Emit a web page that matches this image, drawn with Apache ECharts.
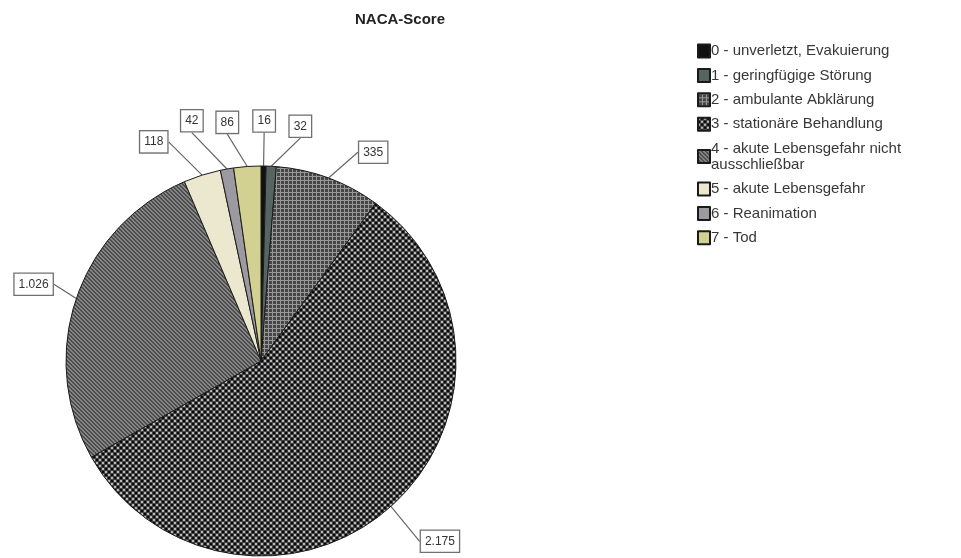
<!DOCTYPE html>
<html>
<head>
<meta charset="utf-8">
<script src="https://cdn.jsdelivr.net/npm/echarts@6/dist/echarts.min.js"></script>
<style>
  html, body { margin: 0; padding: 0; background: #ffffff; }
  #chart { width: 961px; height: 558px; }
</style>
</head>
<body>
<div id="chart"></div>
<script>
// NACA score categories and case counts
const categories = [
  '0 - unverletzt, Evakuierung',
  '1 - geringfügige Störung',
  '2 - ambulante Abklärung',
  '3 - stationäre Behandlung',
  '4 - akute Lebensgefahr nicht\nausschließbar',
  '5 - akute Lebensgefahr',
  '6 - Reanimation',
  '7 - Tod'
];
const counts = [16, 32, 335, 2175, 1026, 118, 42, 86];

// ---- fill patterns ----
function makeTile(w, h, draw) {
  const c = document.createElement('canvas');
  c.width = w; c.height = h;
  const g = c.getContext('2d');
  draw(g);
  return { image: c, repeat: 'repeat' };
}
const gridFill = makeTile(4, 4, g => {
  g.fillStyle = '#464646'; g.fillRect(0, 0, 4, 4);
  g.fillStyle = '#989898'; g.fillRect(0, 0, 4, 1); g.fillRect(0, 0, 1, 4);
});
const checkFill = makeTile(6, 6, g => {
  g.fillStyle = '#424242'; g.fillRect(0, 0, 6, 6);
  g.fillStyle = '#b8b8b8'; g.fillRect(0, 0, 2, 2); g.fillRect(3, 3, 2, 2);
  g.fillStyle = '#080808'; g.fillRect(3, 0, 2, 2); g.fillRect(0, 3, 2, 2);
});
const stripeFill = makeTile(4, 4, g => {
  g.fillStyle = '#4c4c4c'; g.fillRect(0, 0, 4, 4);
  g.fillStyle = '#868686';
  for (let i = 0; i < 4; i++) { g.fillRect(i, i, 1, 1); g.fillRect((i + 1) % 4, i, 1, 1); }
});
const fills = ['#111111', '#56655f', gridFill, checkFill, stripeFill, '#ece8cf', '#9d99a0', '#d3d191'];

// ---- geometry ----
const cx = 261, cy = 361, radius = 195;
const total = counts.reduce((a, b) => a + b, 0);
const midAngles = [];
(function () {
  let acc = 0;
  counts.forEach(v => { midAngles.push((acc + v / 2) / total * 360); acc += v; });
})();
// label spread around the rim (degrees, px from centre)
const labelShift = [0, 6.5, 8, -3, 0, -8.5, -6, -4];
const labelDist = [240, 238, 237, 254, 240, 244, 250, 241];

function fmt(v) {
  return String(v).replace(/\B(?=(\d{3})+(?!\d))/g, '.');
}

const font = 'Liberation Sans, Arial, sans-serif';
const chart = echarts.init(document.getElementById('chart'), null, { renderer: 'canvas' });
chart.setOption({
  animation: false,
  title: {
    text: 'NACA-Score',
    left: 355, top: 12, padding: 0,
    textStyle: { fontFamily: font, fontSize: 15, fontWeight: 'bold', color: '#222' }
  },
  legend: {
    orient: 'vertical',
    left: 697, top: 43, padding: 0,
    icon: 'rect',
    itemWidth: 12, itemHeight: 13, itemGap: 8.4,
    selectedMode: false,
    textStyle: { fontFamily: font, fontSize: 15, color: '#383838', lineHeight: 16, padding: [0, 0, 0, -4] },
    data: categories
  },
  series: [{
    type: 'pie',
    center: [cx, cy],
    radius: radius,
    startAngle: 90,
    clockwise: true,
    avoidLabelOverlap: false,
    itemStyle: { borderColor: '#1a1a1a', borderWidth: 1 },
    emphasis: { disabled: true },
    label: {
      show: true,
      position: 'outside',
      formatter: p => fmt(p.value),
      fontFamily: font,
      fontSize: 12,
      color: '#333',
      backgroundColor: '#ffffff',
      borderColor: '#707070',
      borderWidth: 1.3,
      padding: [5, 4, 4, 4]
    },
    labelLine: { show: true, length: 12, length2: 0, lineStyle: { color: '#666', width: 1.2 } },
    labelLayout: function (p) {
      const i = p.dataIndex;
      const a = (midAngles[i] + labelShift[i]) * Math.PI / 180;
      return {
        x: cx + labelDist[i] * Math.sin(a),
        y: cy - labelDist[i] * Math.cos(a),
        align: 'center',
        verticalAlign: 'middle'
      };
    },
    data: categories.map((name, i) => ({ name: name, value: counts[i], itemStyle: { color: fills[i] } }))
  }]
});
</script>
</body>
</html>
